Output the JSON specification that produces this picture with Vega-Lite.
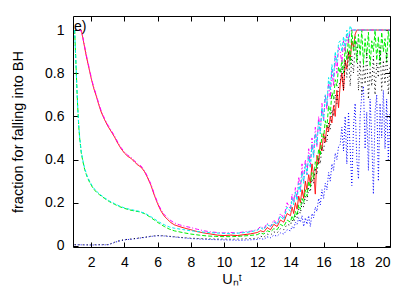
{
"$schema": "https://vega.github.io/schema/vega-lite/v6.json",
"width": 317, "height": 231,
"autosize": {"type": "none"},
"padding": {"left": 73, "top": 16, "right": 25, "bottom": 44},
"background": "white",
"config": {
 "view": {"stroke": "black", "strokeWidth": 1},
 "axis": {"domain": false, "grid": false, "tickColor": "black", "tickSize": -5, "tickWidth": 1, "labelFont": "Liberation Sans", "labelFontSize": 14, "labelColor": "black", "titleFont": "Liberation Sans", "titleFontSize": 14.5, "titleFontWeight": "normal", "titleColor": "black"}
},
"layer": [
 {"data": {"values": [
{"s":"r","x":1.25,"y":1},{"s":"r","x":1.4,"y":1},{"s":"r","x":1.5,"y":0.96},{"s":"r","x":1.6,"y":0.92},{"s":"r","x":1.7,"y":0.88},{"s":"r","x":1.8,"y":0.845},{"s":"r","x":1.9,"y":0.81},{"s":"r","x":2.0,"y":0.775},{"s":"r","x":2.15,"y":0.73},{"s":"r","x":2.3,"y":0.695},{"s":"r","x":2.45,"y":0.655},{"s":"r","x":2.6,"y":0.62},{"s":"r","x":2.8,"y":0.585},{"s":"r","x":3.0,"y":0.555},{"s":"r","x":3.2,"y":0.53},{"s":"r","x":3.4,"y":0.505},{"s":"r","x":3.6,"y":0.475},{"s":"r","x":3.8,"y":0.45},{"s":"r","x":4.0,"y":0.43},{"s":"r","x":4.2,"y":0.415},{"s":"r","x":4.4,"y":0.405},{"s":"r","x":4.6,"y":0.39},{"s":"r","x":4.8,"y":0.375},{"s":"r","x":5.0,"y":0.365},{"s":"r","x":5.2,"y":0.345},{"s":"r","x":5.4,"y":0.315},{"s":"r","x":5.6,"y":0.28},{"s":"r","x":5.8,"y":0.235},{"s":"r","x":6.0,"y":0.195},{"s":"r","x":6.2,"y":0.162},{"s":"r","x":6.4,"y":0.138},{"s":"r","x":6.6,"y":0.122},{"s":"r","x":6.8,"y":0.108},{"s":"r","x":7.0,"y":0.098},{"s":"r","x":7.3,"y":0.09},{"s":"r","x":7.6,"y":0.083},{"s":"r","x":8.0,"y":0.075},{"s":"r","x":8.4,"y":0.066},{"s":"r","x":8.8,"y":0.06},{"s":"r","x":9.2,"y":0.055},{"s":"r","x":9.6,"y":0.05},{"s":"r","x":10,"y":0.048},{"s":"r","x":10.4,"y":0.05},{"s":"r","x":10.8,"y":0.048},{"s":"r","x":11.2,"y":0.052},{"s":"r","x":11.6,"y":0.056},
{"s":"r","x":12.0,"y":0.062},{"s":"r","x":12.2,"y":0.07},{"s":"r","x":12.4,"y":0.065},{"s":"r","x":12.6,"y":0.085},{"s":"r","x":12.8,"y":0.075},{"s":"r","x":13.0,"y":0.1},{"s":"r","x":13.2,"y":0.09},{"s":"r","x":13.4,"y":0.12},{"s":"r","x":13.6,"y":0.11},{"s":"r","x":13.8,"y":0.15},{"s":"r","x":14.0,"y":0.14},{"s":"r","x":14.1,"y":0.18},{"s":"r","x":14.2,"y":0.15},{"s":"r","x":14.3,"y":0.2},{"s":"r","x":14.4,"y":0.17},{"s":"r","x":14.5,"y":0.23},{"s":"r","x":14.6,"y":0.2},{"s":"r","x":14.7,"y":0.26},{"s":"r","x":14.8,"y":0.22},{"s":"r","x":14.9,"y":0.3},{"s":"r","x":15.0,"y":0.26},{"s":"r","x":15.1,"y":0.33},{"s":"r","x":15.2,"y":0.29},{"s":"r","x":15.3,"y":0.38},{"s":"r","x":15.4,"y":0.33},{"s":"r","x":15.5,"y":0.24},{"s":"r","x":15.6,"y":0.42},{"s":"r","x":15.7,"y":0.38},{"s":"r","x":15.8,"y":0.48},{"s":"r","x":15.9,"y":0.44},{"s":"r","x":16.0,"y":0.52},{"s":"r","x":16.1,"y":0.48},{"s":"r","x":16.2,"y":0.56},{"s":"r","x":16.3,"y":0.53},{"s":"r","x":16.4,"y":0.6},{"s":"r","x":16.5,"y":0.57},{"s":"r","x":16.6,"y":0.65},{"s":"r","x":16.7,"y":0.6},{"s":"r","x":16.8,"y":0.72},{"s":"r","x":16.9,"y":0.64},{"s":"r","x":17.0,"y":0.75},{"s":"r","x":17.1,"y":0.8},{"s":"r","x":17.2,"y":0.72},{"s":"r","x":17.3,"y":0.86},{"s":"r","x":17.4,"y":0.82},{"s":"r","x":17.5,"y":0.9},{"s":"r","x":17.6,"y":0.86},{"s":"r","x":17.7,"y":0.95},{"s":"r","x":17.8,"y":0.92},{"s":"r","x":17.9,"y":0.98},{"s":"r","x":18.0,"y":1},{"s":"r","x":20.0,"y":1},
{"s":"g","x":1.0,"y":1},{"s":"g","x":1.05,"y":0.9},{"s":"g","x":1.1,"y":0.8},{"s":"g","x":1.15,"y":0.7},{"s":"g","x":1.2,"y":0.62},{"s":"g","x":1.25,"y":0.55},{"s":"g","x":1.3,"y":0.5},{"s":"g","x":1.4,"y":0.43},{"s":"g","x":1.5,"y":0.39},{"s":"g","x":1.6,"y":0.355},{"s":"g","x":1.75,"y":0.32},{"s":"g","x":1.9,"y":0.295},{"s":"g","x":2.1,"y":0.268},{"s":"g","x":2.3,"y":0.25},{"s":"g","x":2.5,"y":0.237},{"s":"g","x":2.8,"y":0.22},{"s":"g","x":3.1,"y":0.205},{"s":"g","x":3.4,"y":0.193},{"s":"g","x":3.7,"y":0.182},{"s":"g","x":4.0,"y":0.174},{"s":"g","x":4.3,"y":0.167},{"s":"g","x":4.6,"y":0.162},{"s":"g","x":4.9,"y":0.158},{"s":"g","x":5.2,"y":0.15},{"s":"g","x":5.5,"y":0.136},{"s":"g","x":5.8,"y":0.12},{"s":"g","x":6.1,"y":0.104},{"s":"g","x":6.4,"y":0.09},{"s":"g","x":6.7,"y":0.078},{"s":"g","x":7.0,"y":0.07},{"s":"g","x":7.5,"y":0.062},{"s":"g","x":8.0,"y":0.055},{"s":"g","x":8.5,"y":0.05},{"s":"g","x":9.0,"y":0.046},{"s":"g","x":9.5,"y":0.044},{"s":"g","x":10,"y":0.043},{"s":"g","x":10.5,"y":0.043},{"s":"g","x":11,"y":0.045},{"s":"g","x":11.5,"y":0.048},
{"s":"g","x":12.0,"y":0.052},{"s":"g","x":12.2,"y":0.06},{"s":"g","x":12.4,"y":0.055},{"s":"g","x":12.6,"y":0.07},{"s":"g","x":12.8,"y":0.065},{"s":"g","x":13.0,"y":0.08},{"s":"g","x":13.2,"y":0.075},{"s":"g","x":13.4,"y":0.1},{"s":"g","x":13.6,"y":0.09},{"s":"g","x":13.8,"y":0.12},{"s":"g","x":14.0,"y":0.11},{"s":"g","x":14.1,"y":0.14},{"s":"g","x":14.2,"y":0.12},{"s":"g","x":14.3,"y":0.16},{"s":"g","x":14.4,"y":0.14},{"s":"g","x":14.5,"y":0.19},{"s":"g","x":14.6,"y":0.17},{"s":"g","x":14.7,"y":0.22},{"s":"g","x":14.8,"y":0.2},{"s":"g","x":14.9,"y":0.26},{"s":"g","x":15.0,"y":0.23},{"s":"g","x":15.1,"y":0.3},{"s":"g","x":15.2,"y":0.27},{"s":"g","x":15.3,"y":0.34},{"s":"g","x":15.4,"y":0.31},{"s":"g","x":15.5,"y":0.39},{"s":"g","x":15.6,"y":0.36},{"s":"g","x":15.7,"y":0.45},{"s":"g","x":15.8,"y":0.42},{"s":"g","x":15.9,"y":0.52},{"s":"g","x":16.0,"y":0.5},{"s":"g","x":16.1,"y":0.58},{"s":"g","x":16.2,"y":0.55},{"s":"g","x":16.3,"y":0.65},{"s":"g","x":16.4,"y":0.61},{"s":"g","x":16.5,"y":0.71},{"s":"g","x":16.6,"y":0.68},{"s":"g","x":16.7,"y":0.77},{"s":"g","x":16.8,"y":0.74},{"s":"g","x":16.9,"y":0.83},{"s":"g","x":17.0,"y":0.8},{"s":"g","x":17.1,"y":0.86},{"s":"g","x":17.2,"y":0.8},{"s":"g","x":17.3,"y":0.92},{"s":"g","x":17.4,"y":0.86},{"s":"g","x":17.5,"y":0.97},{"s":"g","x":17.6,"y":0.84},{"s":"g","x":17.7,"y":1},{"s":"g","x":17.8,"y":0.9},{"s":"g","x":17.9,"y":0.97},{"s":"g","x":18.0,"y":0.85},{"s":"g","x":18.1,"y":0.98},{"s":"g","x":18.2,"y":0.88},{"s":"g","x":18.3,"y":1},{"s":"g","x":18.4,"y":0.84},{"s":"g","x":18.5,"y":0.96},{"s":"g","x":18.6,"y":0.88},{"s":"g","x":18.7,"y":0.99},{"s":"g","x":18.8,"y":0.83},{"s":"g","x":18.9,"y":0.95},{"s":"g","x":19.0,"y":0.9},{"s":"g","x":19.1,"y":1},{"s":"g","x":19.2,"y":0.86},{"s":"g","x":19.3,"y":0.97},{"s":"g","x":19.4,"y":0.84},{"s":"g","x":19.5,"y":0.99},{"s":"g","x":19.6,"y":0.9},{"s":"g","x":19.7,"y":0.96},{"s":"g","x":19.8,"y":0.85},{"s":"g","x":19.9,"y":1},{"s":"g","x":20.0,"y":0.92},
{"s":"b","x":1.0,"y":0.005},{"s":"b","x":1.5,"y":0.005},{"s":"b","x":2.0,"y":0.004},{"s":"b","x":2.5,"y":0.005},{"s":"b","x":3.0,"y":0.005},{"s":"b","x":3.2,"y":0.01},{"s":"b","x":3.4,"y":0.016},{"s":"b","x":3.6,"y":0.021},{"s":"b","x":3.8,"y":0.025},{"s":"b","x":4.0,"y":0.028},{"s":"b","x":4.4,"y":0.031},{"s":"b","x":4.8,"y":0.035},{"s":"b","x":5.2,"y":0.039},{"s":"b","x":5.6,"y":0.044},{"s":"b","x":6.0,"y":0.047},{"s":"b","x":6.4,"y":0.046},{"s":"b","x":6.8,"y":0.043},{"s":"b","x":7.2,"y":0.04},{"s":"b","x":7.6,"y":0.037},{"s":"b","x":8.0,"y":0.034},{"s":"b","x":8.5,"y":0.032},{"s":"b","x":9.0,"y":0.03},{"s":"b","x":9.5,"y":0.029},{"s":"b","x":10,"y":0.028},{"s":"b","x":10.5,"y":0.027},{"s":"b","x":11,"y":0.026},{"s":"b","x":11.5,"y":0.028},
{"s":"b","x":12.0,"y":0.03},{"s":"b","x":12.2,"y":0.035},{"s":"b","x":12.4,"y":0.03},{"s":"b","x":12.6,"y":0.042},{"s":"b","x":12.8,"y":0.038},{"s":"b","x":13.0,"y":0.05},{"s":"b","x":13.2,"y":0.045},{"s":"b","x":13.4,"y":0.06},{"s":"b","x":13.6,"y":0.055},{"s":"b","x":13.8,"y":0.075},{"s":"b","x":14.0,"y":0.07},{"s":"b","x":14.1,"y":0.09},{"s":"b","x":14.2,"y":0.08},{"s":"b","x":14.3,"y":0.11},{"s":"b","x":14.4,"y":0.1},{"s":"b","x":14.5,"y":0.13},{"s":"b","x":14.6,"y":0.11},{"s":"b","x":14.7,"y":0.14},{"s":"b","x":14.8,"y":0.09},{"s":"b","x":14.9,"y":0.13},{"s":"b","x":15.0,"y":0.1},{"s":"b","x":15.1,"y":0.14},{"s":"b","x":15.2,"y":0.09},{"s":"b","x":15.3,"y":0.15},{"s":"b","x":15.4,"y":0.13},{"s":"b","x":15.5,"y":0.18},{"s":"b","x":15.6,"y":0.16},{"s":"b","x":15.7,"y":0.22},{"s":"b","x":15.8,"y":0.19},{"s":"b","x":15.9,"y":0.26},{"s":"b","x":16.0,"y":0.22},{"s":"b","x":16.1,"y":0.29},{"s":"b","x":16.2,"y":0.26},{"s":"b","x":16.3,"y":0.34},{"s":"b","x":16.4,"y":0.3},{"s":"b","x":16.5,"y":0.38},{"s":"b","x":16.6,"y":0.35},{"s":"b","x":16.7,"y":0.43},{"s":"b","x":16.8,"y":0.4},{"s":"b","x":16.9,"y":0.46},{"s":"b","x":17.0,"y":0.47},{"s":"b","x":17.1,"y":0.55},{"s":"b","x":17.2,"y":0.44},{"s":"b","x":17.3,"y":0.6},{"s":"b","x":17.4,"y":0.38},{"s":"b","x":17.5,"y":0.62},{"s":"b","x":17.6,"y":0.45},{"s":"b","x":17.7,"y":0.28},{"s":"b","x":17.8,"y":0.55},{"s":"b","x":17.9,"y":0.66},{"s":"b","x":18.0,"y":0.4},{"s":"b","x":18.1,"y":0.31},{"s":"b","x":18.2,"y":0.6},{"s":"b","x":18.3,"y":0.7},{"s":"b","x":18.4,"y":0.74},{"s":"b","x":18.5,"y":0.45},{"s":"b","x":18.6,"y":0.62},{"s":"b","x":18.7,"y":0.35},{"s":"b","x":18.8,"y":0.68},{"s":"b","x":18.9,"y":0.5},{"s":"b","x":19.0,"y":0.24},{"s":"b","x":19.1,"y":0.62},{"s":"b","x":19.2,"y":0.7},{"s":"b","x":19.3,"y":0.3},{"s":"b","x":19.4,"y":0.66},{"s":"b","x":19.5,"y":0.5},{"s":"b","x":19.6,"y":0.72},{"s":"b","x":19.7,"y":0.45},{"s":"b","x":19.8,"y":0.68},{"s":"b","x":19.9,"y":0.4},{"s":"b","x":20.0,"y":0.62},
{"s":"m","x":1.25,"y":1},{"s":"m","x":1.4,"y":0.995},{"s":"m","x":1.5,"y":0.965},{"s":"m","x":1.6,"y":0.925},{"s":"m","x":1.7,"y":0.885},{"s":"m","x":1.8,"y":0.85},{"s":"m","x":1.9,"y":0.815},{"s":"m","x":2.0,"y":0.78},{"s":"m","x":2.15,"y":0.735},{"s":"m","x":2.3,"y":0.7},{"s":"m","x":2.45,"y":0.66},{"s":"m","x":2.6,"y":0.625},{"s":"m","x":2.8,"y":0.59},{"s":"m","x":3.0,"y":0.56},{"s":"m","x":3.2,"y":0.535},{"s":"m","x":3.4,"y":0.51},{"s":"m","x":3.6,"y":0.48},{"s":"m","x":3.8,"y":0.455},{"s":"m","x":4.0,"y":0.435},{"s":"m","x":4.2,"y":0.42},{"s":"m","x":4.4,"y":0.41},{"s":"m","x":4.6,"y":0.395},{"s":"m","x":4.8,"y":0.38},{"s":"m","x":5.0,"y":0.37},{"s":"m","x":5.2,"y":0.35},{"s":"m","x":5.4,"y":0.32},{"s":"m","x":5.6,"y":0.285},{"s":"m","x":5.8,"y":0.24},{"s":"m","x":6.0,"y":0.2},{"s":"m","x":6.2,"y":0.168},{"s":"m","x":6.4,"y":0.145},{"s":"m","x":6.6,"y":0.13},{"s":"m","x":6.8,"y":0.117},{"s":"m","x":7.0,"y":0.107},{"s":"m","x":7.3,"y":0.098},{"s":"m","x":7.6,"y":0.092},{"s":"m","x":8.0,"y":0.085},{"s":"m","x":8.4,"y":0.077},{"s":"m","x":8.8,"y":0.07},{"s":"m","x":9.2,"y":0.065},{"s":"m","x":9.6,"y":0.062},{"s":"m","x":10,"y":0.06},{"s":"m","x":10.4,"y":0.062},{"s":"m","x":10.8,"y":0.06},{"s":"m","x":11.2,"y":0.065},{"s":"m","x":11.6,"y":0.068},
{"s":"m","x":12.0,"y":0.075},{"s":"m","x":12.2,"y":0.09},{"s":"m","x":12.4,"y":0.08},{"s":"m","x":12.6,"y":0.105},{"s":"m","x":12.8,"y":0.09},{"s":"m","x":13.0,"y":0.12},{"s":"m","x":13.2,"y":0.1},{"s":"m","x":13.4,"y":0.15},{"s":"m","x":13.6,"y":0.13},{"s":"m","x":13.8,"y":0.2},{"s":"m","x":14.0,"y":0.17},{"s":"m","x":14.1,"y":0.24},{"s":"m","x":14.2,"y":0.2},{"s":"m","x":14.3,"y":0.27},{"s":"m","x":14.4,"y":0.22},{"s":"m","x":14.5,"y":0.32},{"s":"m","x":14.6,"y":0.26},{"s":"m","x":14.7,"y":0.38},{"s":"m","x":14.8,"y":0.3},{"s":"m","x":14.9,"y":0.4},{"s":"m","x":15.0,"y":0.33},{"s":"m","x":15.1,"y":0.45},{"s":"m","x":15.2,"y":0.37},{"s":"m","x":15.3,"y":0.5},{"s":"m","x":15.4,"y":0.42},{"s":"m","x":15.5,"y":0.55},{"s":"m","x":15.6,"y":0.46},{"s":"m","x":15.7,"y":0.6},{"s":"m","x":15.8,"y":0.52},{"s":"m","x":15.9,"y":0.66},{"s":"m","x":16.0,"y":0.58},{"s":"m","x":16.1,"y":0.7},{"s":"m","x":16.2,"y":0.63},{"s":"m","x":16.3,"y":0.76},{"s":"m","x":16.4,"y":0.68},{"s":"m","x":16.5,"y":0.82},{"s":"m","x":16.6,"y":0.74},{"s":"m","x":16.7,"y":0.88},{"s":"m","x":16.8,"y":0.8},{"s":"m","x":16.9,"y":0.92},{"s":"m","x":17.0,"y":0.9},{"s":"m","x":17.1,"y":0.85},{"s":"m","x":17.2,"y":0.95},{"s":"m","x":17.3,"y":0.9},{"s":"m","x":17.4,"y":0.98},{"s":"m","x":17.5,"y":0.94},{"s":"m","x":17.6,"y":1},{"s":"m","x":20.0,"y":1},
{"s":"c","x":1.0,"y":1},{"s":"c","x":1.05,"y":0.9},{"s":"c","x":1.1,"y":0.8},{"s":"c","x":1.15,"y":0.7},{"s":"c","x":1.2,"y":0.62},{"s":"c","x":1.25,"y":0.555},{"s":"c","x":1.3,"y":0.505},{"s":"c","x":1.4,"y":0.435},{"s":"c","x":1.5,"y":0.395},{"s":"c","x":1.6,"y":0.36},{"s":"c","x":1.75,"y":0.325},{"s":"c","x":1.9,"y":0.3},{"s":"c","x":2.1,"y":0.272},{"s":"c","x":2.3,"y":0.255},{"s":"c","x":2.5,"y":0.24},{"s":"c","x":2.8,"y":0.223},{"s":"c","x":3.1,"y":0.208},{"s":"c","x":3.4,"y":0.196},{"s":"c","x":3.7,"y":0.185},{"s":"c","x":4.0,"y":0.176},{"s":"c","x":4.3,"y":0.17},{"s":"c","x":4.6,"y":0.165},{"s":"c","x":4.9,"y":0.16},{"s":"c","x":5.2,"y":0.152},{"s":"c","x":5.5,"y":0.14},{"s":"c","x":5.8,"y":0.125},{"s":"c","x":6.1,"y":0.11},{"s":"c","x":6.4,"y":0.098},{"s":"c","x":6.7,"y":0.088},{"s":"c","x":7.0,"y":0.082},{"s":"c","x":7.5,"y":0.076},{"s":"c","x":8.0,"y":0.07},{"s":"c","x":8.5,"y":0.066},{"s":"c","x":9.0,"y":0.062},{"s":"c","x":9.5,"y":0.06},{"s":"c","x":10,"y":0.058},{"s":"c","x":10.5,"y":0.058},{"s":"c","x":11,"y":0.06},{"s":"c","x":11.5,"y":0.064},
{"s":"c","x":12.0,"y":0.072},{"s":"c","x":12.2,"y":0.085},{"s":"c","x":12.4,"y":0.075},{"s":"c","x":12.6,"y":0.1},{"s":"c","x":12.8,"y":0.088},{"s":"c","x":13.0,"y":0.11},{"s":"c","x":13.2,"y":0.1},{"s":"c","x":13.4,"y":0.14},{"s":"c","x":13.6,"y":0.12},{"s":"c","x":13.8,"y":0.18},{"s":"c","x":14.0,"y":0.16},{"s":"c","x":14.1,"y":0.22},{"s":"c","x":14.2,"y":0.19},{"s":"c","x":14.3,"y":0.25},{"s":"c","x":14.4,"y":0.21},{"s":"c","x":14.5,"y":0.29},{"s":"c","x":14.6,"y":0.25},{"s":"c","x":14.7,"y":0.34},{"s":"c","x":14.8,"y":0.29},{"s":"c","x":14.9,"y":0.38},{"s":"c","x":15.0,"y":0.33},{"s":"c","x":15.1,"y":0.42},{"s":"c","x":15.2,"y":0.36},{"s":"c","x":15.3,"y":0.47},{"s":"c","x":15.4,"y":0.41},{"s":"c","x":15.5,"y":0.52},{"s":"c","x":15.6,"y":0.47},{"s":"c","x":15.7,"y":0.58},{"s":"c","x":15.8,"y":0.52},{"s":"c","x":15.9,"y":0.64},{"s":"c","x":16.0,"y":0.58},{"s":"c","x":16.1,"y":0.7},{"s":"c","x":16.2,"y":0.65},{"s":"c","x":16.3,"y":0.78},{"s":"c","x":16.4,"y":0.72},{"s":"c","x":16.5,"y":0.84},{"s":"c","x":16.6,"y":0.78},{"s":"c","x":16.7,"y":0.9},{"s":"c","x":16.8,"y":0.85},{"s":"c","x":16.9,"y":0.94},{"s":"c","x":17.0,"y":0.95},{"s":"c","x":17.1,"y":0.9},{"s":"c","x":17.2,"y":0.97},{"s":"c","x":17.3,"y":0.92},{"s":"c","x":17.4,"y":1},{"s":"c","x":17.5,"y":0.96},{"s":"c","x":17.6,"y":1.02},{"s":"c","x":17.7,"y":1},{"s":"c","x":20.0,"y":1},
{"s":"k","x":1.0,"y":0.006},{"s":"k","x":1.5,"y":0.005},{"s":"k","x":2.0,"y":0.005},{"s":"k","x":2.5,"y":0.006},{"s":"k","x":3.0,"y":0.006},{"s":"k","x":3.2,"y":0.011},{"s":"k","x":3.4,"y":0.017},{"s":"k","x":3.6,"y":0.022},{"s":"k","x":3.8,"y":0.026},{"s":"k","x":4.0,"y":0.029},{"s":"k","x":4.4,"y":0.032},{"s":"k","x":4.8,"y":0.036},{"s":"k","x":5.2,"y":0.04},{"s":"k","x":5.6,"y":0.045},{"s":"k","x":6.0,"y":0.048},{"s":"k","x":6.4,"y":0.047},{"s":"k","x":6.8,"y":0.044},{"s":"k","x":7.2,"y":0.041},{"s":"k","x":7.6,"y":0.038},{"s":"k","x":8.0,"y":0.036},{"s":"k","x":8.5,"y":0.034},{"s":"k","x":9.0,"y":0.033},{"s":"k","x":9.5,"y":0.032},{"s":"k","x":10,"y":0.032},{"s":"k","x":10.5,"y":0.031},{"s":"k","x":11,"y":0.032},{"s":"k","x":11.5,"y":0.034},
{"s":"k","x":12.0,"y":0.035},{"s":"k","x":12.2,"y":0.045},{"s":"k","x":12.4,"y":0.04},{"s":"k","x":12.6,"y":0.055},{"s":"k","x":12.8,"y":0.05},{"s":"k","x":13.0,"y":0.065},{"s":"k","x":13.2,"y":0.06},{"s":"k","x":13.4,"y":0.08},{"s":"k","x":13.6,"y":0.075},{"s":"k","x":13.8,"y":0.1},{"s":"k","x":14.0,"y":0.095},{"s":"k","x":14.1,"y":0.12},{"s":"k","x":14.2,"y":0.11},{"s":"k","x":14.3,"y":0.14},{"s":"k","x":14.4,"y":0.13},{"s":"k","x":14.5,"y":0.17},{"s":"k","x":14.6,"y":0.15},{"s":"k","x":14.7,"y":0.2},{"s":"k","x":14.8,"y":0.18},{"s":"k","x":14.9,"y":0.23},{"s":"k","x":15.0,"y":0.21},{"s":"k","x":15.1,"y":0.27},{"s":"k","x":15.2,"y":0.25},{"s":"k","x":15.3,"y":0.31},{"s":"k","x":15.4,"y":0.29},{"s":"k","x":15.5,"y":0.36},{"s":"k","x":15.6,"y":0.33},{"s":"k","x":15.7,"y":0.41},{"s":"k","x":15.8,"y":0.38},{"s":"k","x":15.9,"y":0.46},{"s":"k","x":16.0,"y":0.44},{"s":"k","x":16.1,"y":0.51},{"s":"k","x":16.2,"y":0.48},{"s":"k","x":16.3,"y":0.57},{"s":"k","x":16.4,"y":0.54},{"s":"k","x":16.5,"y":0.63},{"s":"k","x":16.6,"y":0.6},{"s":"k","x":16.7,"y":0.7},{"s":"k","x":16.8,"y":0.66},{"s":"k","x":16.9,"y":0.74},{"s":"k","x":17.0,"y":0.76},{"s":"k","x":17.1,"y":0.83},{"s":"k","x":17.2,"y":0.72},{"s":"k","x":17.3,"y":0.86},{"s":"k","x":17.4,"y":0.78},{"s":"k","x":17.5,"y":0.9},{"s":"k","x":17.6,"y":0.74},{"s":"k","x":17.7,"y":0.88},{"s":"k","x":17.8,"y":0.8},{"s":"k","x":17.9,"y":0.93},{"s":"k","x":18.0,"y":0.95},{"s":"k","x":18.1,"y":0.72},{"s":"k","x":18.2,"y":0.86},{"s":"k","x":18.3,"y":0.7},{"s":"k","x":18.4,"y":0.84},{"s":"k","x":18.5,"y":0.75},{"s":"k","x":18.6,"y":0.9},{"s":"k","x":18.7,"y":0.68},{"s":"k","x":18.8,"y":0.82},{"s":"k","x":18.9,"y":0.74},{"s":"k","x":19.0,"y":0.88},{"s":"k","x":19.1,"y":0.7},{"s":"k","x":19.2,"y":0.85},{"s":"k","x":19.3,"y":0.78},{"s":"k","x":19.4,"y":0.92},{"s":"k","x":19.5,"y":0.72},{"s":"k","x":19.6,"y":0.86},{"s":"k","x":19.7,"y":0.75},{"s":"k","x":19.8,"y":0.9},{"s":"k","x":19.9,"y":0.7},{"s":"k","x":20.0,"y":0.84}
 ]},
 "mark": {"type": "line", "strokeWidth": 1, "clip": true},
 "encoding": {
  "x": {"field": "x", "type": "quantitative", "scale": {"domain": [0.9, 20], "nice": false, "zero": false},
        "axis": {"orient": "bottom", "values": [2,4,6,8,10,12,14,16,18,20], "title": "Uₙᵗ", "labelPadding": 13, "titlePadding": 3}},
  "y": {"field": "y", "type": "quantitative", "scale": {"domain": [-0.005, 1.065], "nice": false, "zero": false},
        "axis": {"orient": "left", "values": [0,0.2,0.4,0.6,0.8,1], "format": "~g", "title": "fraction for falling into BH", "labelPadding": 14, "titlePadding": 19}},
  "color": {"field": "s", "type": "nominal", "sort": ["r","g","b","m","c","k"], "scale": {"domain": ["r","g","b","m","c","k"], "range": ["#ff0000","#00ee00","#0000ff","#ff00ff","#00eeee","#000000"]}, "legend": null},
  "strokeDash": {"field": "s", "type": "nominal", "sort": ["r","g","b","m","c","k"], "scale": {"domain": ["r","g","b","m","c","k"], "range": [[1,0],[4,2],[1,2],[4,2,1,2],[3,2],[1,3]]}, "legend": null}
 }},
 {"data": {"values": [{"x": 0.96, "y": 1.015, "t": "e)"}]},
  "mark": {"type": "text", "align": "left", "baseline": "middle", "font": "Liberation Sans", "fontSize": 14, "color": "black"},
  "encoding": {
   "x": {"field": "x", "type": "quantitative", "axis": {"orient": "top", "values": [2,4,6,8,10,12,14,16,18,20], "labels": false, "title": null}},
   "y": {"field": "y", "type": "quantitative", "axis": {"orient": "right", "values": [0,0.2,0.4,0.6,0.8,1], "labels": false, "title": null}},
   "text": {"field": "t"}
  }}
],
"resolve": {"axis": {"x": "independent", "y": "independent"}}
}
